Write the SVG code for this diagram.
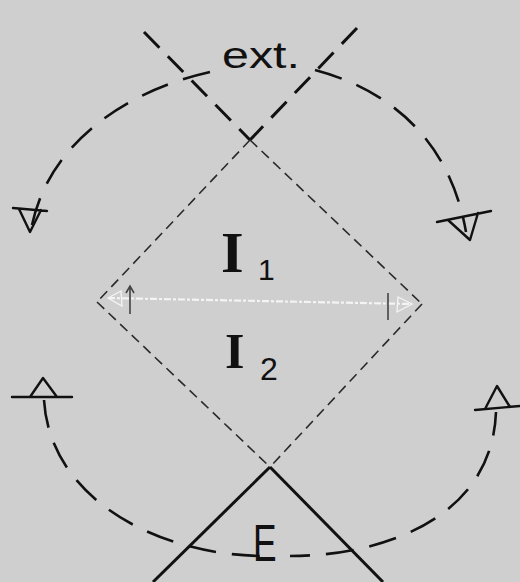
<svg xmlns="http://www.w3.org/2000/svg" width="520" height="582" viewBox="0 0 520 582">
<style>
.thin{stroke:#2a2a2a;stroke-width:1.6;fill:none;stroke-dasharray:10 6}
.thick{stroke:#111;stroke-width:3;fill:none;stroke-dasharray:22 12}
.solid{stroke:#111;stroke-width:3;fill:none}
.arc{stroke:#111;stroke-width:2.6;fill:none;stroke-dasharray:28 16}
.head{stroke:#111;stroke-width:2.4;fill:none;stroke-linejoin:round;stroke-linecap:round}
.lbl{fill:#111;font-family:"Liberation Sans",Arial,sans-serif}
.ser{fill:#111;font-family:"Liberation Serif","Times New Roman",serif;font-weight:bold}
</style>
<rect width="520" height="582" fill="#cfcfcf"/>
<g id="lines">
<line class="thick" x1="144" y1="32" x2="250" y2="140"/>
<line class="thick" x1="357" y1="28" x2="250" y2="140"/>
<line class="thin" x1="250" y1="140" x2="422" y2="304"/>
<line class="thin" x1="250" y1="140" x2="97" y2="302"/>
<line class="thin" x1="97" y1="302" x2="270" y2="467"/>
<line class="thin" x1="422" y1="304" x2="270" y2="467"/>
<line class="solid" x1="270" y1="467" x2="153" y2="582"/>
<line class="solid" x1="270" y1="467" x2="383" y2="582"/>
</g>
<g id="connectors">
<path class="arc" d="M210,72 C130,90 50,140 32,225"/>
<path class="head" d="M13,208 L47,211 M19,209 L30,232 L41,210"/>
<path class="arc" d="M315,70 C390,90 450,140 466,232"/>
<path class="head" d="M437,222 L491,211 M448,220 L470,240 L478,213"/>
<path class="arc" d="M44,400 C50,500 160,556 265,556"/>
<path class="arc" d="M290,556 C380,556 492,520 496,412" stroke-dashoffset="8"/>
<path class="head" d="M12,397 L72,397 M30,397 L43,378 L57,397"/>
<path class="head" d="M475,410 L520,406 M485,409 L497,386 L510,407"/>
<g id="double-arrow">
<line x1="108" y1="298" x2="412" y2="304" stroke="#f4f4f4" stroke-width="2.2" stroke-dasharray="7 2 3 2"/>
<path d="M108,298 L121,291 L122,306 Z M412,304 L398,297 L397,312 Z" fill="none" stroke="#f4f4f4" stroke-width="1.3"/>
<path d="M130,288 L130,314 M126,293 L130,286 L134,293 M388,293 L388,320" stroke="#444" stroke-width="1.6" fill="none"/>
</g>
</g>
<g id="ext"><text class="lbl" x="222" y="68" font-size="36" textLength="78" lengthAdjust="spacingAndGlyphs">ext.</text></g>
<g id="I1"><text class="ser" x="221" y="272" font-size="58">I</text><text class="lbl" x="258" y="280" font-size="30">1</text></g>
<g id="I2"><text class="ser" x="225" y="368" font-size="50">I</text><text class="lbl" x="260" y="380" font-size="32">2</text></g>
<g id="E"><text class="lbl" font-size="52" transform="translate(253,561) scale(0.68,1)">E</text></g>
</svg>
